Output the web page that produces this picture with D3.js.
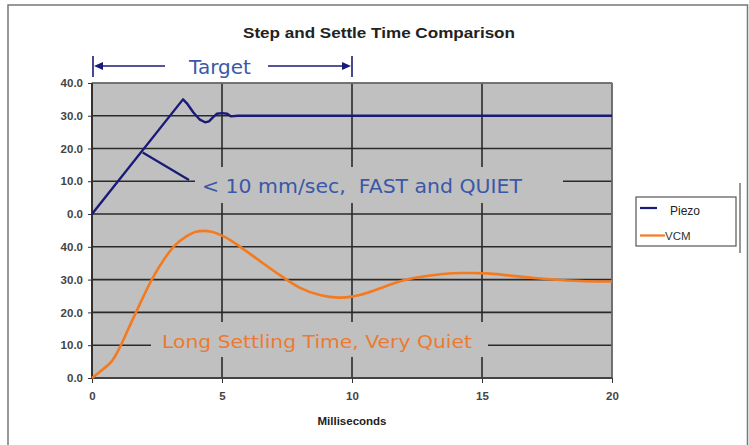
<!DOCTYPE html>
<html><head><meta charset="utf-8">
<script src="https://cdn.jsdelivr.net/npm/d3@7"></script>
<style>html,body{margin:0;padding:0;background:#fff}svg{display:block}</style>
</head><body>
<svg id="c" width="749" height="445"></svg>
<script>
// ---- data ----
const xTicks = [0, 5, 10, 15, 20];
const yTicksLower = [0, 10, 20, 30, 40];
const yTicksUpper = [0, 10, 20, 30, 40];
const piezoT = [0, 3.5, 3.65, 3.9, 4.15, 4.35, 4.5, 4.65, 4.8, 5.0, 5.2, 5.35, 5.6, 20];
const piezoV = [0, 35, 33.8, 31, 28.8, 28, 28.3, 29.5, 30.6, 30.8, 30.6, 29.8, 30.0, 30];
const vcmT = [0, 0.4, 0.75, 1.05, 1.4, 1.75, 2.3, 2.8, 3.2, 3.6, 4.0, 4.6, 5.1, 5.7, 6.4, 7.2, 8.0, 8.8, 9.5, 10.0, 10.6, 11.3, 12.0, 12.8, 13.5, 14.3, 15.2, 16.0, 17.0, 18.0, 19.0, 20];
const vcmV = [0, 2.5, 5, 9, 15, 21, 30, 36.5, 40.5, 43, 44.6, 44.6, 43, 40, 36, 31.5, 27.5, 25.2, 24.5, 24.8, 26, 28, 29.8, 31, 31.7, 32, 31.9, 31.3, 30.5, 29.9, 29.5, 29.4];
const seriesNames = ["Piezo", "VCM"];
const title = "Step and Settle Time Comparison";
const xTitle = "Milliseconds";

const svg = d3.select("#c");
const L = 92, R = 612, T = 83, B = 378, MID = 214;
const x = d3.scaleLinear().domain([0, 20]).range([L, R]);
const yLow = d3.scaleLinear().domain([0, 50]).range([B, MID]);
const yUp = d3.scaleLinear().domain([0, 40]).range([MID, T]);

// outer frame
svg.append("rect").attr("x", 8).attr("y", 5).attr("width", 739.5).attr("height", 445)
  .attr("fill", "none").attr("stroke", "#777").attr("stroke-width", 1.5);

// plot bg
svg.append("rect").attr("x", L).attr("y", T).attr("width", R - L).attr("height", B - T).attr("fill", "#c0c0c0");

const grid = svg.append("g").attr("stroke", "#2a2a2a").attr("stroke-width", 1.6);
yTicksLower.forEach(v => grid.append("line").attr("x1", L).attr("x2", R).attr("y1", yLow(v)).attr("y2", yLow(v)));
yTicksUpper.forEach(v => grid.append("line").attr("x1", L).attr("x2", R).attr("y1", yUp(v)).attr("y2", yUp(v)));
xTicks.forEach(v => grid.append("line").attr("x1", x(v)).attr("x2", x(v)).attr("y1", T).attr("y2", B));
// plot border
svg.append("rect").attr("x", L).attr("y", T).attr("width", R - L).attr("height", B - T)
  .attr("fill", "none").attr("stroke", "#888").attr("stroke-width", 1.2);
svg.append("line").attr("x1", L).attr("x2", L).attr("y1", T).attr("y2", B).attr("stroke", "#222").attr("stroke-width", 1.6);
svg.append("line").attr("x1", L).attr("x2", R).attr("y1", B).attr("y2", B).attr("stroke", "#333").attr("stroke-width", 1.6);

// axes
const axisFont = "Liberation Sans, Arial, sans-serif";
const yAxL = svg.append("g").attr("transform", `translate(${L},0)`)
  .call(d3.axisLeft(yLow).tickValues(yTicksLower).tickFormat(d3.format(".1f")).tickSize(4).tickPadding(5));
const yAxU = svg.append("g").attr("transform", `translate(${L},0)`)
  .call(d3.axisLeft(yUp).tickValues(yTicksUpper).tickFormat(d3.format(".1f")).tickSize(4).tickPadding(5));
const xAx = svg.append("g").attr("transform", `translate(0,${B})`)
  .call(d3.axisBottom(x).tickValues(xTicks).tickSize(5).tickPadding(9));
[yAxL, yAxU, xAx].forEach(g => {
  g.select(".domain").remove();
  g.selectAll("line").attr("stroke", "#333");
  g.selectAll("text").attr("font-family", axisFont).attr("font-size", 11.5).attr("font-weight", "bold").attr("fill", "#444");
});

// annotation boxes (cover grid)
svg.append("rect").attr("x", 195).attr("y", 167).attr("width", 368).attr("height", 36).attr("fill", "#c0c0c0");
svg.append("rect").attr("x", 151).attr("y", 322).attr("width", 337).attr("height", 35).attr("fill", "#c0c0c0");

// lines
const piezo = piezoT.map((t, i) => [t, piezoV[i]]);
const vcm = vcmT.map((t, i) => [t, vcmV[i]]);
svg.append("path").datum(vcm)
  .attr("d", d3.line().x(d => x(d[0])).y(d => yLow(d[1])).curve(d3.curveCatmullRom))
  .attr("fill", "none").attr("stroke", "#f47a20").attr("stroke-width", 2.6);
svg.append("path").datum(piezo)
  .attr("d", d3.line().x(d => x(d[0])).y(d => yUp(d[1])))
  .attr("fill", "none").attr("stroke", "#1a1a78").attr("stroke-width", 2.4).attr("stroke-linejoin", "round");

// pointer line
svg.append("line").attr("x1", x(1.95)).attr("y1", yUp(18.8)).attr("x2", 189).attr("y2", 180)
  .attr("stroke", "#1a1a78").attr("stroke-width", 2.2);

// annotation texts
const annFont = "DejaVu Sans, Verdana, sans-serif";
svg.append("text").attr("x", 202).attr("y", 193).attr("font-family", annFont).attr("font-size", 19)
  .attr("fill", "#3a58a8").attr("textLength", 320).attr("lengthAdjust", "spacingAndGlyphs")
  .attr("xml:space", "preserve").text("< 10 mm/sec,  FAST and QUIET");
svg.append("text").attr("x", 162).attr("y", 348).attr("font-family", annFont).attr("font-size", 18)
  .attr("fill", "#ec7a30").attr("textLength", 310).attr("lengthAdjust", "spacingAndGlyphs")
  .text("Long Settling Time, Very Quiet");

// Target arrow
const tg = svg.append("g").attr("stroke", "#1a1a78").attr("stroke-width", 1.6).attr("fill", "#1a1a78");
tg.append("line").attr("x1", x(0) + 1).attr("x2", x(0) + 1).attr("y1", 56).attr("y2", 77);
tg.append("line").attr("x1", x(10)).attr("x2", x(10)).attr("y1", 56).attr("y2", 77);
tg.append("line").attr("x1", x(0) + 4).attr("x2", 165).attr("y1", 66).attr("y2", 66);
tg.append("line").attr("x1", 268).attr("x2", x(10) - 4).attr("y1", 66).attr("y2", 66);
tg.append("path").attr("d", `M${x(0)+2},66 L${x(0)+11},62 L${x(0)+11},70 Z`).attr("stroke", "none");
tg.append("path").attr("d", `M${x(10)-1},66 L${x(10)-10},62 L${x(10)-10},70 Z`).attr("stroke", "none");
svg.append("text").attr("x", 220).attr("y", 74).attr("text-anchor", "middle").attr("font-family", annFont)
  .attr("font-size", 20).attr("fill", "#3a58a8").text("Target");

// title
svg.append("text").attr("x", 379).attr("y", 38).attr("text-anchor", "middle").attr("font-family", axisFont)
  .attr("font-size", 15).attr("font-weight", "bold").attr("fill", "#222")
  .attr("textLength", 272).attr("lengthAdjust", "spacingAndGlyphs").text(title);
svg.append("text").attr("x", 352).attr("y", 425).attr("text-anchor", "middle").attr("font-family", axisFont)
  .attr("font-size", 11.5).attr("font-weight", "bold").attr("fill", "#222").text(xTitle);

// legend
const lg = svg.append("g");
lg.append("rect").attr("x", 636).attr("y", 197).attr("width", 100).attr("height", 49)
  .attr("fill", "#fff").attr("stroke", "#555").attr("stroke-width", 1.2);
lg.append("line").attr("x1", 640).attr("x2", 657).attr("y1", 208).attr("y2", 208).attr("stroke", "#1a1a78").attr("stroke-width", 2.2);
lg.append("text").attr("x", 670).attr("y", 215).attr("font-family", axisFont).attr("font-size", 12).attr("fill", "#222").text(seriesNames[0]);
lg.append("line").attr("x1", 640).attr("x2", 665).attr("y1", 235.5).attr("y2", 235.5).attr("stroke", "#f47a20").attr("stroke-width", 2.2);
lg.append("text").attr("x", 665).attr("y", 240).attr("font-family", axisFont).attr("font-size", 11.5).attr("fill", "#333").text(seriesNames[1]);
svg.append("line").attr("x1", 740).attr("x2", 740).attr("y1", 183).attr("y2", 253).attr("stroke", "#777").attr("stroke-width", 1.5);
</script>
</body></html>
